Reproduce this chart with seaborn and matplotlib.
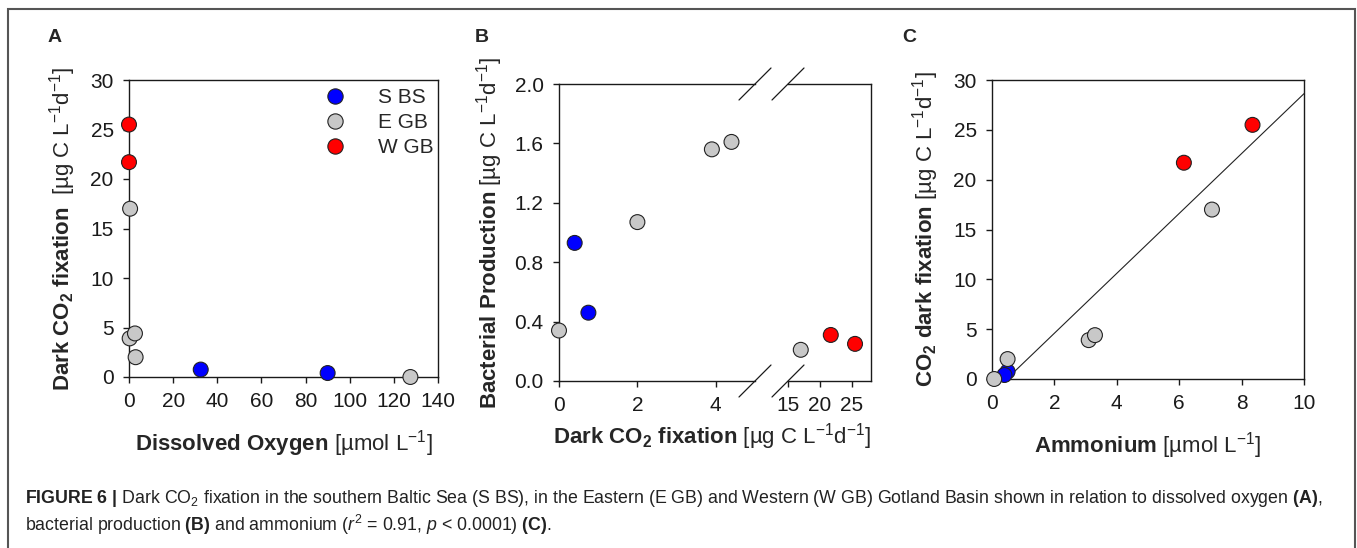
import matplotlib
matplotlib.use("Agg")
import pandas as pd
import matplotlib.pyplot as plt
import seaborn as sns
from matplotlib.patches import Rectangle

# values (one entry per sample)
site = ["S BS", "S BS", "E GB", "E GB", "E GB", "E GB", "E GB", "W GB", "W GB"]
oxygen = [32.5, 90.0, 0.5, 0.3, 2.7, 3.0, 127.5, 0.0, 0.0]
dark_co2 = [0.75, 0.4, 17.0, 3.9, 4.4, 2.0, 0.0, 21.7, 25.5]
bact_prod = [0.46, 0.93, 0.21, 1.56, 1.61, 1.07, 0.34, 0.31, 0.25]
ammonium = [0.5, 0.4, 7.05, 3.1, 3.3, 0.5, 0.07, 6.15, 8.35]

sites = ["S BS", "E GB", "W GB"]
colors = {"S BS": "#0000ff", "E GB": "#c8c8c8", "W GB": "#ff0000"}

df = pd.DataFrame({"site": site, "oxygen": oxygen, "dark_co2": dark_co2,
                   "bp": bact_prod, "nh4": ammonium})

sns.set_style("ticks")
plt.rcParams["font.family"] = ["Liberation Sans", "DejaVu Sans"]
plt.rcParams["mathtext.fontset"] = "custom"
plt.rcParams["mathtext.rm"] = "Liberation Sans"
plt.rcParams["mathtext.bf"] = "Liberation Sans:bold"
plt.rcParams["mathtext.it"] = "Liberation Sans:italic"

W, H = 1357, 548
fig = plt.figure(figsize=(W / 100, H / 100), dpi=100)


def box(l, r, t, b):
    return [l / W, 1 - b / H, (r - l) / W, (b - t) / H]


def style(ax, left=True, right=True):
    for s in ax.spines.values():
        s.set_color("#1a1a1a")
        s.set_linewidth(1.0)
    ax.spines["left"].set_visible(left)
    ax.spines["right"].set_visible(right)
    ax.tick_params(direction="out", length=4, width=1, labelsize=15,
                   colors="#1a1a1a", labelcolor="#1a1a1a", pad=7)


pt_kw = dict(hue="site", hue_order=sites, palette=colors, s=115,
             edgecolor="#222222", linewidth=0.8, clip_on=False, zorder=5)
ylab = r" [µg C L$^{-1}$d$^{-1}$]"
LS = 16

# ---- A
axA = fig.add_axes(box(129, 438, 80, 377))
sns.scatterplot(data=df, x="oxygen", y="dark_co2", ax=axA, **pt_kw)
axA.set_xlim(0, 140)
axA.set_ylim(0, 30)
axA.set_xticks(range(0, 141, 20))
axA.set_yticks(range(0, 31, 5))
style(axA)
handles, labels = axA.get_legend_handles_labels()
for h in handles:
    h.set_markersize(11)
axA.legend(handles, labels, frameon=False, loc="upper left",
           bbox_to_anchor=(0.54, 1.035), handletextpad=1.05, labelspacing=0.28,
           fontsize=15)
axA.set_xlabel(r"$\mathbf{Dissolved\ Oxygen}$ [µmol L$^{-1}$]", fontsize=LS, labelpad=12)
axA.set_ylabel(r"$\mathbf{Dark\ CO_2\ fixation}$ " + ylab, fontsize=LS, labelpad=9)

# ---- B (broken x axis)
axB1 = fig.add_axes(box(559, 755, 84, 381))
axB2 = fig.add_axes(box(788, 871, 84, 381), sharey=axB1)
sns.scatterplot(data=df[df["dark_co2"] < 10], x="dark_co2", y="bp", ax=axB1,
                legend=False, **pt_kw)
sns.scatterplot(data=df[df["dark_co2"] > 10], x="dark_co2", y="bp", ax=axB2,
                legend=False, **pt_kw)
axB1.set_xlim(0, 5)
axB2.set_xlim(15, 28)
axB1.set_ylim(0, 2.0)
axB1.set_xticks([0, 2, 4])
axB2.set_xticks([15, 20, 25])
axB1.set_yticks([0.0, 0.4, 0.8, 1.2, 1.6, 2.0])
axB1.set_yticklabels(["0.0", "0.4", "0.8", "1.2", "1.6", "2.0"])
style(axB1, right=False)
style(axB2, left=False)
axB2.tick_params(left=False, labelleft=False)
axB2.set_ylabel("")
axB1.set_xlabel("")
axB2.set_xlabel("")
axB1.set_ylabel(r"$\mathbf{Bacterial\ Production}$" + ylab, fontsize=LS, labelpad=7)
fig.text(712 / W, 1 - 437 / H, r"$\mathbf{Dark\ CO_2\ fixation}$" + ylab,
         fontsize=LS, ha="center", va="center")
# break marks
for ax, xa in ((axB1, 1.0), (axB2, 0.0)):
    bb = ax.get_position()
    dx = 16 / (bb.width * W)
    dy = 16 / (bb.height * H)
    for ya in (0.0, 1.0):
        ax.plot([xa - dx, xa + dx], [ya - dy, ya + dy], transform=ax.transAxes,
                color="#1a1a1a", lw=0.9, clip_on=False)

# ---- C
axC = fig.add_axes(box(992, 1304, 80, 379))
axC.set_xlim(0, 10)
sns.regplot(data=df, x="nh4", y="dark_co2", ax=axC, scatter=False, ci=None,
            truncate=False, line_kws=dict(color="#222222", lw=0.8))
sns.scatterplot(data=df, x="nh4", y="dark_co2", ax=axC, legend=False, **pt_kw)
axC.set_xlim(0, 10)
axC.set_ylim(0, 30)
axC.set_xticks(range(0, 11, 2))
axC.set_yticks(range(0, 31, 5))
style(axC)
axC.set_xlabel(r"$\mathbf{Ammonium}$ [µmol L$^{-1}$]", fontsize=LS, labelpad=12)
axC.set_ylabel(r"$\mathbf{CO_2\ dark\ fixation}$" + ylab, fontsize=LS, labelpad=9)

# panel letters
for x, s in ((55, "A"), (482, "B"), (909, "C")):
    fig.text(x / W, 1 - 37 / H, s, fontsize=14, fontweight="bold",
             ha="center", va="center")

# caption
cap1 = (r"$\mathbf{FIGURE\ 6\ |}$ Dark CO$_2$ fixation in the southern Baltic Sea (S BS), "
        r"in the Eastern (E GB) and Western (W GB) Gotland Basin shown in relation to "
        r"dissolved oxygen $\mathbf{(A)}$,")
cap2 = (r"bacterial production $\mathbf{(B)}$ and ammonium ($\mathit{r}^2$ = 0.91, "
        r"$\mathit{p}$ < 0.0001) $\mathbf{(C)}$.")
fig.text(25 / W, 1 - 503 / H, cap1, fontsize=12.8, color="#222222", va="baseline")
fig.text(25 / W, 1 - 531 / H, cap2, fontsize=12.8, color="#222222", va="baseline")

# outer frame
fig.add_artist(Rectangle((8 / W, -0.1), (1355 - 8) / W, 1 - 9 / H + 0.1,
                         transform=fig.transFigure, fill=False,
                         edgecolor="#555555", lw=1.5))

fig.savefig("out.png", dpi=100)
